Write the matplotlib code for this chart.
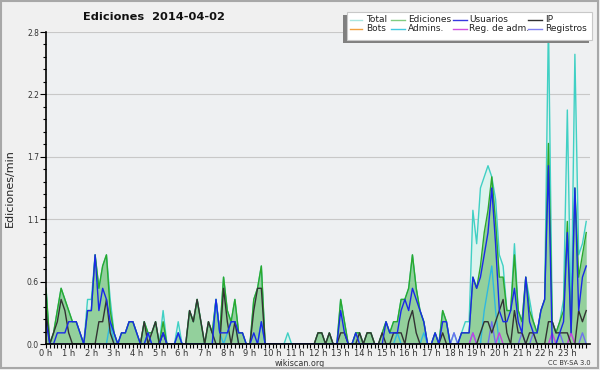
import matplotlib
matplotlib.use('Agg')
import matplotlib.pyplot as plt
import numpy as np
from matplotlib.lines import Line2D
from matplotlib.patches import Rectangle

# ---- data: edits per minute, one value per 10-minute slot (0:00 .. 23:50) ----
hour_labels = [f"{h} h" for h in range(24)]
y_ticks = [0.0, 0.56, 1.12, 1.68, 2.24, 2.8]

total = [
    .5, 0, .1, .3, .5, .4, .3, .2, .2, .1, 0, .4,
    .4, .8, .5, .7, .8, .4, .1, 0, .1, .1, .2, .2,
    .1, 0, .2, .1, .1, .2, 0, .3, 0, 0, 0, .2,
    0, 0, .3, .2, .4, .2, 0, .2, .1, .4, .1, .6,
    .3, .2, .4, .1, .1, 0, 0, .4, .5, .7, 0, 0,
    0, 0, 0, 0, .1, 0, 0, 0, 0, 0, 0, 0,
    .1, .1, 0, .1, 0, 0, .4, .2, 0, 0, .1, .1,
    0, .1, .1, 0, 0, .1, .2, .1, .2, .2, .4, .4,
    .5, .8, .5, .3, .2, 0, 0, .1, 0, .3, .2, 0,
    .1, 0, .1, .2, .2, 1.2, .9, 1.4, 1.5, 1.6, 1.5, 1.3,
    .8, .7, .3, .3, .9, .3, .2, .6, .4, .2, .1, .3,
    .4, 2.9, .2, .1, .2, .4, 2.1, .2, 2.6, .8, .9, 1.1,
]
edits = [
    .5, 0, .1, .3, .5, .4, .3, .2, .2, .1, 0, .3,
    .3, .8, .5, .7, .8, .3, .1, 0, .1, .1, .2, .2,
    .1, 0, .2, .1, .1, .2, 0, .2, 0, 0, 0, .1,
    0, 0, .3, .2, .4, .2, 0, .2, .1, .4, .1, .6,
    .3, .2, .4, .1, .1, 0, 0, .4, .5, .7, 0, 0,
    0, 0, 0, 0, 0, 0, 0, 0, 0, 0, 0, 0,
    .1, .1, 0, .1, 0, 0, .4, .2, 0, 0, .1, .1,
    0, .1, .1, 0, 0, .1, .2, .1, .2, .2, .4, .4,
    .5, .8, .5, .3, .2, 0, 0, .1, 0, .3, .2, 0,
    0, 0, .1, .1, .1, .6, .5, .7, 1.0, 1.2, 1.5, 1.1,
    .6, .6, .3, .3, .8, .3, .2, .6, .3, .2, .1, .3,
    .4, 1.8, .2, .1, .2, .3, 1.1, .1, 1.4, .6, .8, 1.0,
]
users = [
    .2, 0, 0, .1, .1, .1, .2, .2, .2, .1, 0, .3,
    .3, .8, .3, .5, .4, .2, .1, 0, .1, .1, .2, .2,
    .1, 0, 0, .1, 0, 0, 0, .1, 0, 0, 0, .1,
    0, 0, 0, 0, 0, 0, 0, 0, 0, .4, .1, .1,
    .1, .2, .2, .1, .1, 0, 0, .1, 0, .2, 0, 0,
    0, 0, 0, 0, 0, 0, 0, 0, 0, 0, 0, 0,
    0, 0, 0, 0, 0, 0, .3, .1, 0, 0, .1, 0,
    0, 0, 0, 0, 0, 0, .2, .1, .1, .1, .3, .4,
    .3, .5, .4, .3, .2, 0, 0, .1, 0, .2, .2, 0,
    0, 0, .1, .1, .1, .6, .5, .6, .8, 1.0, 1.4, .9,
    .3, .2, .2, .3, .5, .2, .1, .6, .2, .1, .1, .3,
    .4, 1.6, 0, 0, .1, .2, 1.0, .1, 1.4, .3, .6, .7,
]
ip = [
    .3, 0, .1, .2, .4, .3, .1, 0, 0, 0, 0, 0,
    0, 0, .2, .2, .4, .1, 0, 0, 0, 0, 0, 0,
    0, 0, .2, 0, .1, .2, 0, .1, 0, 0, 0, 0,
    0, 0, .3, .2, .4, .2, 0, .2, .1, 0, 0, .5,
    .2, 0, .2, 0, 0, 0, 0, .3, .5, .5, 0, 0,
    0, 0, 0, 0, 0, 0, 0, 0, 0, 0, 0, 0,
    .1, .1, 0, .1, 0, 0, .1, .1, 0, 0, 0, .1,
    0, .1, .1, 0, 0, .1, 0, 0, .1, .1, .1, 0,
    .2, .3, .1, 0, 0, 0, 0, 0, 0, .1, 0, 0,
    0, 0, 0, 0, 0, 0, 0, .1, .2, .2, .1, .2,
    .3, .4, .1, 0, .3, .1, .1, 0, .1, .1, 0, 0,
    0, .2, .2, .1, .1, .1, .1, 0, 0, .3, .2, .3,
]
admins = [
    0, 0, 0, 0, 0, 0, 0, 0, 0, 0, 0, 0,
    0, 0, 0, 0, 0, .2, 0, 0, 0, 0, 0, 0,
    0, 0, 0, .1, 0, 0, 0, .1, 0, 0, 0, .1,
    0, 0, 0, 0, 0, 0, 0, 0, 0, .4, .1, 0,
    .1, .2, .2, 0, 0, 0, 0, 0, 0, .2, 0, 0,
    0, 0, 0, 0, 0, 0, 0, 0, 0, 0, 0, 0,
    0, 0, 0, 0, 0, 0, 0, 0, 0, 0, 0, 0,
    0, 0, 0, 0, 0, 0, 0, 0, 0, .1, 0, 0,
    0, 0, 0, 0, .1, 0, 0, 0, 0, 0, 0, 0,
    0, 0, 0, 0, 0, .1, 0, 0, .3, .5, .7, .3,
    0, 0, 0, 0, 0, 0, 0, 0, 0, 0, 0, 0,
    0, 0, 0, 0, 0, 0, 0, 0, 0, 0, 0, 0,
]
reg_adm = [0] * 113 + [.1, 0, 0, 0, 0, 0, 0, .1] + [0] * 13 + [.1, 0, 0, 0, 0, .1] + [0] * 4
registros = [
    0, 0, 0, 0, 0, 0, 0, 0, 0, 0, 0, 0,
    0, 0, 0, 0, 0, 0, 0, 0, 0, 0, 0, 0,
    0, 0, 0, 0, 0, 0, 0, 0, 0, 0, 0, 0,
    0, 0, 0, 0, 0, 0, 0, 0, 0, 0, 0, 0,
    0, 0, 0, 0, 0, 0, 0, 0, 0, 0, 0, 0,
    0, 0, 0, 0, 0, 0, 0, 0, 0, 0, 0, 0,
    0, 0, 0, 0, 0, 0, 0, 0, 0, 0, 0, 0,
    0, 0, 0, 0, 0, 0, 0, 0, 0, 0, 0, 0,
    0, 0, 0, 0, 0, 0, 0, 0, 0, 0, 0, 0,
    .1, 0, 0, 0, 0, 0, 0, 0, 0, 0, .2, 0,
    0, 0, 0, 0, 0, 0, .1, 0, 0, .1, 0, 0,
    0, 0, 0, 0, .1, 0, 0, 0, 0, 0, .1, 0,
]

legend_names = ["Total", "Ediciones", "Usuarios", "IP",
                "Bots", "Admins.", "Reg. de adm.", "Registros"]
legend_colors = ["#a8e6e0", "#80cc80", "#3838e0", "#303030",
                 "#f0a040", "#40c8e0", "#d050e0", "#8080f0"]

plt.rcParams['font.family'] = ['DejaVu Sans']

W, H = 600, 370
fig = plt.figure(figsize=(6, 3.7), dpi=100, facecolor='#f0f0f0')

def fx(px):
    return px / W

def fy(py):
    return 1 - py / H

ax = fig.add_axes([fx(46), fy(344), (590 - 46) / W, (344 - 32) / H])
ax.set_facecolor('#eef0f2')

x = np.arange(len(total)) / 6.0

# fills
ax.fill_between(x, 0, total, color='#dcf3ee', alpha=1.0, lw=0, zorder=1)
ax.fill_between(x, 0, edits, color='#3aa63a', alpha=0.45, lw=0, zorder=1.2)
# lines
ax.plot(x, total, color='#40d0c4', lw=1.0, zorder=2)
ax.plot(x, edits, color='#2ca82c', lw=1.0, zorder=2.1)
ax.plot(x, ip, color='#333333', lw=1.0, zorder=2.2)
ax.plot(x, users, color='#1a28e8', lw=1.0, zorder=2.3)
ax.plot(x, admins, color='#30b8e0', lw=1.0, zorder=2.15)
ax.plot(x, reg_adm, color='#c840e0', lw=1.0, zorder=2.15)
ax.plot(x, registros, color='#6f6ff0', lw=1.0, zorder=2.15)

ax.set_xlim(0, 24)
ax.set_ylim(0, 2.8)

ax.set_xticks(range(24))
ax.set_xticklabels(hour_labels, fontsize=6, color='#333333')
ax.set_xticks(np.arange(0, 24, 1 / 6), minor=True)
ax.set_yticks(y_ticks)
ax.set_yticklabels([f"{v:.1f}" for v in y_ticks], fontsize=5.5, color='#333333')
ax.set_yticks(np.arange(0, 2.81, 0.112), minor=True)
ax.tick_params(axis='x', which='both', direction='out', length=3, width=0.8, pad=0.3)
ax.tick_params(axis='y', which='major', direction='out', length=4, width=0.8, pad=1)
ax.tick_params(axis='y', which='minor', direction='out', length=2.5, width=0.8)

for v in y_ticks[1:]:
    ax.axhline(v, color='#c8c8c8', lw=0.8, zorder=0.5)

for s in ['top', 'right']:
    ax.spines[s].set_visible(False)
for s in ['left', 'bottom']:
    ax.spines[s].set_color('black')
    ax.spines[s].set_linewidth(1.2)
    ax.spines[s].set_zorder(5)

ax.set_ylabel("Ediciones/min", fontsize=8, color='#222222')
ax.yaxis.set_label_coords((15 - 46) / 544, 0.5)

# title and footer texts
fig.text(fx(154), fy(17), "Ediciones  2014-04-02", fontsize=8.2, fontweight='bold',
         ha='center', va='center', color='#111111')
fig.text(fx(300), fy(363), "wikiscan.org", fontsize=5.8, ha='center', va='center', color='#333333')
fig.text(fx(569), fy(363), "CC BY-SA 3.0", fontsize=4.8, ha='center', va='center', color='#333333')

# manual legend
fig.patches.append(Rectangle((fx(343), fy(42.5)), (589 - 343) / W, (42.5 - 15) / H,
                             transform=fig.transFigure, facecolor='#808080', edgecolor='none', zorder=10))
fig.patches.append(Rectangle((fx(347), fy(39.5)), (592 - 347) / W, (39.5 - 11.5) / H,
                             transform=fig.transFigure, facecolor='white', edgecolor='#c8c8c8',
                             lw=0.8, zorder=11))
cols = [(350, 362, 366), (391, 405, 408), (453, 467, 469), (528, 542, 545)]
rows = [19.5, 28.7]
for k, (name, col) in enumerate(zip(legend_names, legend_colors)):
    r, c = divmod(k, 4)
    x0, x1, tx = cols[c]
    yy = rows[r]
    fig.lines.append(Line2D([fx(x0), fx(x1)], [fy(yy), fy(yy)], transform=fig.transFigure,
                            color=col, lw=1.0, zorder=12))
    fig.text(fx(tx), fy(yy), name, fontsize=6.5, ha='left', va='center', color='#222222', zorder=12)

# outer frame
fig.patches.append(Rectangle((fx(1), fy(367.5)), (597.5 - 1) / W, (367.5 - 1) / H,
                             transform=fig.transFigure, fill=False, edgecolor='#a8a8a8', lw=1.5, zorder=20))

fig.savefig('out.png', dpi=100, facecolor=fig.get_facecolor())
